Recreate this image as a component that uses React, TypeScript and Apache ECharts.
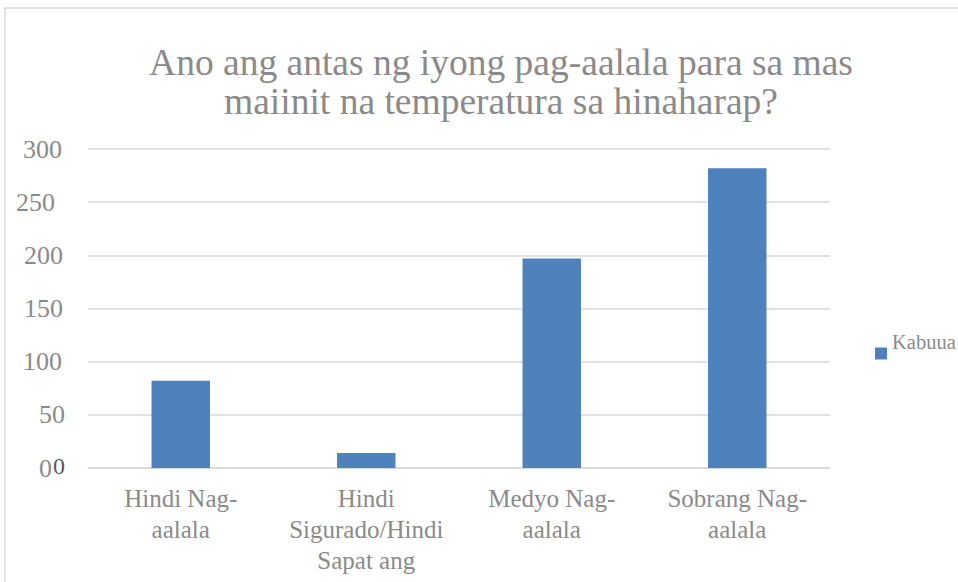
import React, { useEffect, useRef } from "react";
import * as echarts from "echarts";

const categories = [
  "Hindi Nag-aalala",
  "Hindi Sigurado/Hindi Sapat ang",
  "Medyo Nag-aalala",
  "Sobrang Nag-aalala",
];
const wrappedLabels = [
  "Hindi Nag-\naalala",
  "Hindi\nSigurado/Hindi\nSapat ang",
  "Medyo Nag-\naalala",
  "Sobrang Nag-\naalala",
];
const seriesName = "Kabuuan";
const values = [82, 14, 197, 282];
const titleText = "Ano ang antas ng iyong pag-aalala para sa mas\nmaiinit na temperatura sa hinaharap?";

const FONT = "'Liberation Serif', 'Times New Roman', serif";

// per-tick right padding, to mimic the uneven placement of the y labels
const yLabelPad: Record<number, number> = { 0: 13, 50: 0, 100: 3, 150: 2, 200: 2, 250: 10, 300: 3 };

export default function App() {
  const ref = useRef<HTMLDivElement>(null);
  useEffect(() => {
    const chart = echarts.init(ref.current!, undefined, { renderer: "svg" });
    const rich: Record<string, any> = {};
    Object.keys(yLabelPad).forEach((k) => {
      rich["p" + k] = {
        fontFamily: FONT,
        fontSize: 26,
        color: "#8a8a8a",
        padding: [0, yLabelPad[+k], 0, 0],
      };
    });
    const legendFont = "20.5px " + FONT;
    const truncate = (s: string, w: number) => {
      const fmt: any = (echarts as any).format;
      if (fmt && typeof fmt.truncateText === "function") {
        return fmt.truncateText(s, w, legendFont, "", {});
      }
      return s;
    };
    chart.setOption({
      animation: false,
      backgroundColor: "#ffffff",
      title: {
        text: titleText,
        left: 496,
        textAlign: "center",
        top: 38,
        textStyle: {
          fontFamily: FONT,
          fontSize: 37.5,
          fontWeight: "normal",
          color: "#8a8a8a",
          lineHeight: 39,
        },
      },
      grid: { left: 88, right: 128, top: 149, bottom: 114 },
      legend: {
        left: 870,
        top: 326,
        itemWidth: 12,
        itemHeight: 12,
        itemGap: 6,
        icon: "rect",
        data: [seriesName],
        formatter: (name: string) => `{a|${truncate(name, 66)}}`,
        textStyle: {
          fontFamily: FONT,
          fontSize: 20.5,
          color: "#8a8a8a",
          rich: {
            a: {
              fontFamily: FONT,
              fontSize: 20.5,
              color: "#8a8a8a",
              lineHeight: 24,
              padding: [0, 0, 24, 0],
            },
          },
        },
      },
      xAxis: {
        type: "category",
        data: categories,
        axisLine: { lineStyle: { color: "#d9d9d9", width: 1.5 } },
        axisTick: { show: false },
        axisLabel: {
          interval: 0,
          margin: 15,
          fontFamily: FONT,
          fontSize: 25,
          lineHeight: 31,
          color: "#8a8a8a",
          formatter: (v: string) => wrappedLabels[categories.indexOf(v)],
        },
      },
      yAxis: {
        type: "value",
        min: 0,
        max: 300,
        interval: 50,
        axisLine: { show: false },
        axisTick: { show: false },
        splitLine: { lineStyle: { color: "#d9d9d9", width: 1.5 } },
        axisLabel: {
          margin: 23,
          fontFamily: FONT,
          fontSize: 26,
          color: "#8a8a8a",
          formatter: (v: number) => `{p${v}|${v}}`,
          rich,
        },
      },
      series: [
        {
          name: seriesName,
          type: "bar",
          data: values,
          barWidth: "31.5%",
          itemStyle: { color: "#4f81bd" },
        },
      ],
      graphic: [
        {
          type: "rect",
          shape: { x: 5, y: 8, width: 1200, height: 1200 },
          style: { fill: "none", stroke: "#d9d9d9", lineWidth: 1.5 },
          silent: true,
        },
        {
          type: "text",
          left: 53,
          top: 454,
          style: {
            text: "0",
            font: "24px 'Liberation Serif', serif",
            fill: "#595959",
          },
        },
      ],
    });
    return () => chart.dispose();
  }, []);
  return (
    <div
      ref={ref}
      style={{ position: "fixed", left: 0, top: 0, width: 958, height: 582 }}
    />
  );
}
